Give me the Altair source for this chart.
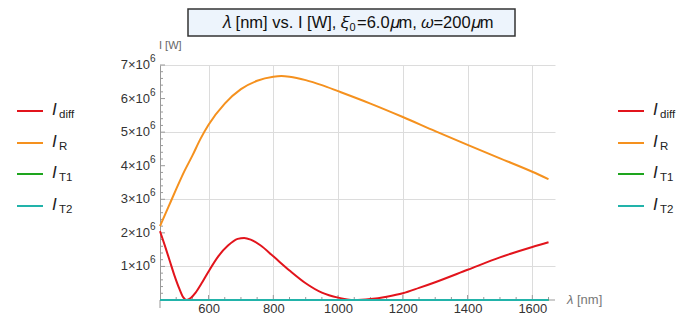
import altair as alt
import pandas as pd

# ---- data ----
lam_diff = [450, 465, 480, 495, 510, 522, 532, 545, 560, 580, 600, 630, 660, 690, 710, 730, 760, 800,
            850, 900, 950, 1000, 1050, 1100, 1150, 1200, 1250, 1300, 1400, 1500, 1600, 1650]
i_diff = [2.05, 1.62, 1.17, 0.72, 0.33, 0.08, 0.0, 0.06, 0.22, 0.52, 0.85, 1.30, 1.62, 1.82, 1.85, 1.80,
          1.63, 1.30, 0.88, 0.50, 0.22, 0.07, 0.0, 0.03, 0.10, 0.20, 0.36, 0.53, 0.90, 1.27, 1.58, 1.72]
lam_r = [450, 475, 500, 525, 550, 575, 600, 650, 700, 750, 800, 825, 850, 900, 950, 1000, 1100,
         1200, 1300, 1400, 1500, 1600, 1650]
i_r = [2.2, 2.75, 3.3, 3.83, 4.3, 4.8, 5.22, 5.85, 6.28, 6.53, 6.65, 6.67, 6.65, 6.55, 6.4, 6.22, 5.85,
       5.45, 5.03, 4.62, 4.22, 3.82, 3.6]
lam_t = [450, 1650]
i_t1 = [0.0, 0.0]
i_t2 = [0.0, 0.0]

series_main = ["I", "I", "I", "I"]
series_sub = ["diff", "R", "T1", "T2"]
series_colors = ["#e2141c", "#f5911e", "#1ea51e", "#22b3aa"]

x_major = [600, 800, 1000, 1200, 1400, 1600]
x_minor = [500, 550, 650, 700, 750, 850, 900, 950, 1050, 1100, 1150, 1250, 1300, 1350, 1450, 1500, 1550, 1650]
y_major = [1e6, 2e6, 3e6, 4e6, 5e6, 6e6, 7e6]
y_minor = [k * 2e5 for k in range(1, 35) if k % 5 != 0]
y_mant = ["1", "2", "3", "4", "5", "6", "7"]

title_left = "𝜆 [nm] vs. I [W], 𝜉"
title_sub = "0"
title_right = "=6.0𝜇m, 𝜔=200𝜇m"

W, H = 395, 235
FONT = "Liberation Sans"
xs = alt.Scale(domain=[450, 1670], nice=False, zero=False)
ys = alt.Scale(domain=[0, 7e6], nice=False)

def series_df(lams, vals):
    return pd.DataFrame({"lam": lams, "I": [v * 1e6 for v in vals]})

frames = [series_df(lam_diff, i_diff), series_df(lam_r, i_r),
          series_df(lam_t, i_t1), series_df(lam_t, i_t2)]

xaxis = alt.Axis(values=x_major, grid=True, gridColor="#dcdcdc", ticks=False, domain=False,
                 labelPadding=2, labelFontSize=13, labelColor="#333", labelFont=FONT, title=None,
                 format="d", labelOverlap=False)
yaxis = alt.Axis(values=y_major, grid=True, gridColor="#dcdcdc", ticks=False, domain=True,
                 domainColor="#999", labels=False, title=None)

layers = []
# base axes/grid layer
layers.append(alt.Chart(frames[0]).mark_line(opacity=0).encode(
    x=alt.X("lam:Q", scale=xs, axis=xaxis), y=alt.Y("I:Q", scale=ys, axis=yaxis)))

one = pd.DataFrame({"a": [0]})
# x axis line and y axis extension
layers.append(alt.Chart(one).mark_rule(color="#999", strokeWidth=1).encode(
    x=alt.value(0), x2=alt.value(W), y=alt.value(H)))
layers.append(alt.Chart(one).mark_rule(color="#999", strokeWidth=1).encode(
    x=alt.value(0), y=alt.value(H), y2=alt.value(H + 8)))

# inward ticks
layers.append(alt.Chart(pd.DataFrame({"t": x_major})).mark_rule(color="#999").encode(
    x=alt.X("t:Q", scale=xs), y=alt.value(H), y2=alt.value(H - 5)))
layers.append(alt.Chart(pd.DataFrame({"t": x_minor})).mark_rule(color="#999").encode(
    x=alt.X("t:Q", scale=xs), y=alt.value(H), y2=alt.value(H - 3)))
layers.append(alt.Chart(pd.DataFrame({"t": y_major})).mark_rule(color="#999").encode(
    y=alt.Y("t:Q", scale=ys), x=alt.value(0), x2=alt.value(5)))
layers.append(alt.Chart(pd.DataFrame({"t": y_minor})).mark_rule(color="#999").encode(
    y=alt.Y("t:Q", scale=ys), x=alt.value(0), x2=alt.value(3)))

# y tick labels "k×10^6"
ylab = pd.DataFrame({"t": y_major, "m": [m + "×10" for m in y_mant]})
layers.append(alt.Chart(ylab).mark_text(font=FONT, fontSize=13, color="#333", align="right",
                                        baseline="middle").encode(
    y=alt.Y("t:Q", scale=ys), x=alt.value(-10), text="m:N"))
layers.append(alt.Chart(ylab).mark_text(text="6", font=FONT, fontSize=10, color="#333", align="left",
                                        baseline="middle", dy=-6).encode(
    y=alt.Y("t:Q", scale=ys), x=alt.value(-10)))

# series lines
for df, col in zip(frames, series_colors):
    layers.append(alt.Chart(df).mark_line(color=col, strokeWidth=2, interpolate="monotone").encode(
        x=alt.X("lam:Q", scale=xs), y=alt.Y("I:Q", scale=ys)))

# axis titles
layers.append(alt.Chart(one).mark_text(text="I [W]", font=FONT, fontSize=11, color="#666",
                                       align="left", baseline="middle").encode(
    x=alt.value(-1), y=alt.value(-19)))
layers.append(alt.Chart(one).mark_text(text="λ", font=FONT, fontSize=13, fontStyle="italic",
                                       color="#777", align="left", baseline="middle").encode(
    x=alt.value(407), y=alt.value(H)))
layers.append(alt.Chart(one).mark_text(text="[nm]", font=FONT, fontSize=13, color="#777",
                                       align="left", baseline="middle").encode(
    x=alt.value(417), y=alt.value(H)))

# title box
layers.append(alt.Chart(one).mark_rect(fill="#edf4fc", stroke="#333", strokeWidth=1.5).encode(
    x=alt.value(28), x2=alt.value(355), y=alt.value(-56), y2=alt.value(-29)))
layers.append(alt.Chart(one).mark_text(text=title_left, font=FONT, fontSize=16.5, color="#111",
                                       align="right", baseline="middle").encode(
    x=alt.value(189), y=alt.value(-42)))
layers.append(alt.Chart(one).mark_text(text=title_sub, font=FONT, fontSize=11, color="#111",
                                       align="left", baseline="middle").encode(
    x=alt.value(189.5), y=alt.value(-37)))
layers.append(alt.Chart(one).mark_text(text=title_right, font=FONT, fontSize=16.5, color="#111",
                                       align="left", baseline="middle").encode(
    x=alt.value(197), y=alt.value(-42)))

# legends (left and right)
leg_y = [46, 78, 109, 141]
for lx in (-143, 458):
    for yy, main, sub, col in zip(leg_y, series_main, series_sub, series_colors):
        layers.append(alt.Chart(one).mark_rule(color=col, strokeWidth=2).encode(
            x=alt.value(lx), x2=alt.value(lx + 26), y=alt.value(yy)))
        layers.append(alt.Chart(one).mark_text(text=main, font=FONT, fontSize=17, fontStyle="italic",
                                               color="#222", align="left", baseline="middle").encode(
            x=alt.value(lx + 35), y=alt.value(yy - 1)))
        layers.append(alt.Chart(one).mark_text(text=sub, font=FONT, fontSize=11.5, color="#222",
                                               align="left", baseline="middle").encode(
            x=alt.value(lx + 42), y=alt.value(yy + 4)))

chart = alt.layer(*layers).properties(
    width=W, height=H,
    autosize=alt.AutoSizeParams(type="none"),
    padding={"left": 152, "top": 57, "right": 134, "bottom": 16},
).configure_view(stroke=None)

chart.save("out.html", embed_options={"renderer": "svg", "actions": False})
